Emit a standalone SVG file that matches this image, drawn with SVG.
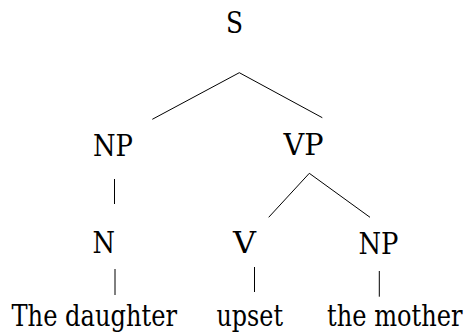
<svg xmlns="http://www.w3.org/2000/svg" width="470" height="336" viewBox="0 0 470 336">
  <style>
    text { font-family: 'DejaVu Serif', 'Liberation Serif', serif; font-size: 29px; fill: #000; }
    .edge { stroke: #000; stroke-width: 1; fill: none; }
  </style>
  <rect width="470" height="336" fill="#fff"/>
  <g id="connectors">
    <line class="edge" x1="239.3" y1="72.7" x2="152.3" y2="119.3"/>
    <line class="edge" x1="239.3" y1="72.7" x2="322.3" y2="117.7"/>
    <line class="edge" x1="114.5" y1="179" x2="114.5" y2="204"/>
    <line class="edge" x1="309.3" y1="173.3" x2="268.7" y2="217.3"/>
    <line class="edge" x1="309.3" y1="173.3" x2="370" y2="217.3"/>
    <line class="edge" x1="115" y1="269" x2="115" y2="295"/>
    <line class="edge" x1="254.5" y1="267" x2="254.5" y2="292"/>
    <line class="edge" x1="379.3" y1="271" x2="379.3" y2="296.7"/>
  </g>
  <g id="node-S"><text x="226" y="33" textLength="17" lengthAdjust="spacingAndGlyphs">S</text></g>
  <g id="node-NP1"><text x="93" y="156" textLength="40" lengthAdjust="spacingAndGlyphs">NP</text></g>
  <g id="node-VP"><text x="283.5" y="155" textLength="40" lengthAdjust="spacingAndGlyphs">VP</text></g>
  <g id="node-N"><text x="92.5" y="253" textLength="22.5" lengthAdjust="spacingAndGlyphs">N</text></g>
  <g id="node-V"><text x="233" y="253" textLength="23" lengthAdjust="spacingAndGlyphs">V</text></g>
  <g id="node-NP2"><text x="358.5" y="254" textLength="40" lengthAdjust="spacingAndGlyphs">NP</text></g>
  <g id="word-daughter"><text x="11.5" y="325.5" textLength="165.5" lengthAdjust="spacingAndGlyphs">The daughter</text></g>
  <g id="word-upset"><text x="216.5" y="325.5" textLength="66.5" lengthAdjust="spacingAndGlyphs">upset</text></g>
  <g id="word-mother"><text x="327" y="325.5" textLength="135.5" lengthAdjust="spacingAndGlyphs">the mother</text></g>
</svg>
